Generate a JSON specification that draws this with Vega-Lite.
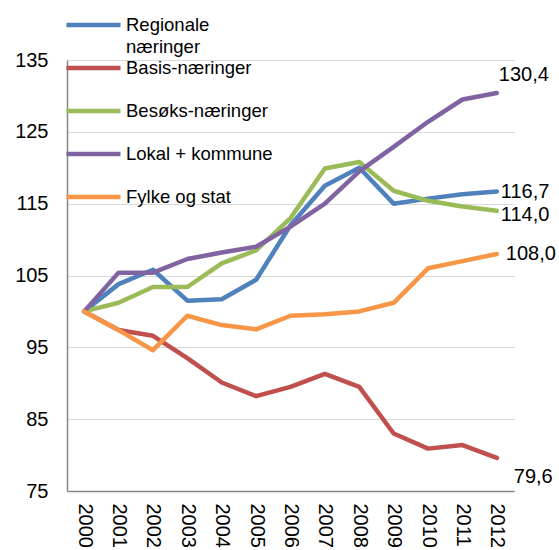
{
  "$schema": "https://vega.github.io/schema/vega-lite/v6.json",
  "width": 447,
  "height": 431,
  "autosize": {"type": "none"},
  "padding": {"left": 67, "top": 60, "right": 45, "bottom": 59},
  "config": {
    "view": {"stroke": null},
    "font": "Liberation Sans",
    "text": {"font": "Liberation Sans"}
  },
  "data": {
    "values": [
      {"year": "2000", "series": "Regionale næringer", "value": 100},
      {"year": "2001", "series": "Regionale næringer", "value": 103.8},
      {"year": "2002", "series": "Regionale næringer", "value": 105.8},
      {"year": "2003", "series": "Regionale næringer", "value": 101.5},
      {"year": "2004", "series": "Regionale næringer", "value": 101.7},
      {"year": "2005", "series": "Regionale næringer", "value": 104.4},
      {"year": "2006", "series": "Regionale næringer", "value": 112.0},
      {"year": "2007", "series": "Regionale næringer", "value": 117.5},
      {"year": "2008", "series": "Regionale næringer", "value": 120.0},
      {"year": "2009", "series": "Regionale næringer", "value": 115.0},
      {"year": "2010", "series": "Regionale næringer", "value": 115.7},
      {"year": "2011", "series": "Regionale næringer", "value": 116.3},
      {"year": "2012", "series": "Regionale næringer", "value": 116.7},
      {"year": "2000", "series": "Basis-næringer", "value": 100},
      {"year": "2001", "series": "Basis-næringer", "value": 97.4},
      {"year": "2002", "series": "Basis-næringer", "value": 96.6},
      {"year": "2003", "series": "Basis-næringer", "value": 93.5},
      {"year": "2004", "series": "Basis-næringer", "value": 90.1},
      {"year": "2005", "series": "Basis-næringer", "value": 88.2},
      {"year": "2006", "series": "Basis-næringer", "value": 89.5},
      {"year": "2007", "series": "Basis-næringer", "value": 91.3},
      {"year": "2008", "series": "Basis-næringer", "value": 89.5},
      {"year": "2009", "series": "Basis-næringer", "value": 83.0},
      {"year": "2010", "series": "Basis-næringer", "value": 80.9},
      {"year": "2011", "series": "Basis-næringer", "value": 81.4},
      {"year": "2012", "series": "Basis-næringer", "value": 79.6},
      {"year": "2000", "series": "Besøks-næringer", "value": 100},
      {"year": "2001", "series": "Besøks-næringer", "value": 101.2},
      {"year": "2002", "series": "Besøks-næringer", "value": 103.4},
      {"year": "2003", "series": "Besøks-næringer", "value": 103.4},
      {"year": "2004", "series": "Besøks-næringer", "value": 106.7},
      {"year": "2005", "series": "Besøks-næringer", "value": 108.5},
      {"year": "2006", "series": "Besøks-næringer", "value": 113.0},
      {"year": "2007", "series": "Besøks-næringer", "value": 119.9},
      {"year": "2008", "series": "Besøks-næringer", "value": 120.8},
      {"year": "2009", "series": "Besøks-næringer", "value": 116.8},
      {"year": "2010", "series": "Besøks-næringer", "value": 115.4},
      {"year": "2011", "series": "Besøks-næringer", "value": 114.6},
      {"year": "2012", "series": "Besøks-næringer", "value": 114.0},
      {"year": "2000", "series": "Lokal + kommune", "value": 100},
      {"year": "2001", "series": "Lokal + kommune", "value": 105.4},
      {"year": "2002", "series": "Lokal + kommune", "value": 105.4},
      {"year": "2003", "series": "Lokal + kommune", "value": 107.3},
      {"year": "2004", "series": "Lokal + kommune", "value": 108.2},
      {"year": "2005", "series": "Lokal + kommune", "value": 109.0},
      {"year": "2006", "series": "Lokal + kommune", "value": 111.8},
      {"year": "2007", "series": "Lokal + kommune", "value": 115.0},
      {"year": "2008", "series": "Lokal + kommune", "value": 119.5},
      {"year": "2009", "series": "Lokal + kommune", "value": 122.9},
      {"year": "2010", "series": "Lokal + kommune", "value": 126.4},
      {"year": "2011", "series": "Lokal + kommune", "value": 129.5},
      {"year": "2012", "series": "Lokal + kommune", "value": 130.4},
      {"year": "2000", "series": "Fylke og stat", "value": 100},
      {"year": "2001", "series": "Fylke og stat", "value": 97.4},
      {"year": "2002", "series": "Fylke og stat", "value": 94.6},
      {"year": "2003", "series": "Fylke og stat", "value": 99.4},
      {"year": "2004", "series": "Fylke og stat", "value": 98.1},
      {"year": "2005", "series": "Fylke og stat", "value": 97.5},
      {"year": "2006", "series": "Fylke og stat", "value": 99.4},
      {"year": "2007", "series": "Fylke og stat", "value": 99.6},
      {"year": "2008", "series": "Fylke og stat", "value": 100.0},
      {"year": "2009", "series": "Fylke og stat", "value": 101.2},
      {"year": "2010", "series": "Fylke og stat", "value": 106.0},
      {"year": "2011", "series": "Fylke og stat", "value": 107.0},
      {"year": "2012", "series": "Fylke og stat", "value": 108.0}
    ]
  },
  "encoding": {
    "x": {
      "field": "year", "type": "ordinal",
      "scale": {"type": "point", "padding": 0.5},
      "axis": {
        "title": null, "labelAngle": 90, "labelAlign": "left", "labelBaseline": "middle",
        "labelFontSize": 20, "labelColor": "#000", "labelPadding": 12,
        "ticks": false, "domainColor": "#868686", "domainWidth": 1.5, "grid": false
      }
    },
    "y": {
      "field": "value", "type": "quantitative",
      "scale": {"domain": [75, 135], "nice": false, "zero": false},
      "axis": {
        "title": null, "values": [75, 85, 95, 105, 115, 125, 135],
        "labelFontSize": 20, "labelColor": "#000", "labelPadding": 19,
        "ticks": false, "domainColor": "#868686", "domainWidth": 1.5,
        "grid": true, "gridColor": "#d9d9d9", "gridWidth": 1.2
      }
    }
  },
  "layer": [
    {
      "mark": {"type": "line", "strokeWidth": 4.5, "strokeJoin": "round", "strokeCap": "round"},
      "encoding": {
        "color": {
          "field": "series", "type": "nominal",
          "scale": {
            "domain": ["Regionale næringer", "Basis-næringer", "Besøks-næringer", "Lokal + kommune", "Fylke og stat"],
            "range": ["#4F81BD", "#C0504D", "#9BBB59", "#8064A2", "#F79646"]
          },
          "legend": {
            "orient": "none", "legendX": -3, "legendY": -43, "title": null,
            "symbolType": "stroke", "symbolSize": 2916, "symbolStrokeWidth": 4.5,
            "labelFontSize": 18.5, "labelColor": "#000", "labelOffset": 3, "labelLimit": 300,
            "labelBaseline": "alphabetic", "rowPadding": 2, "padding": 0,
            "labelExpr": "datum.label == 'Regionale næringer' ? ['Regionale', 'næringer'] : [datum.label, '']",
            "encode": {
              "symbols": {"update": {"y": {"value": 8}}},
              "labels": {"update": {"y": {"value": 8}, "dy": {"value": 6}, "lineHeight": {"value": 22}}}
            }
          }
        }
      }
    },
    {
      "transform": [
        {"filter": "datum.year == '2012' && datum.series == 'Lokal + kommune'"},
        {"calculate": "replace(format(datum.value, '.1f'), '.', ',')", "as": "label"}
      ],
      "mark": {"type": "text", "align": "left", "baseline": "middle", "dx": 2, "dy": -18, "fontSize": 20, "color": "#000"},
      "encoding": {"text": {"field": "label", "type": "nominal"}}
    },
    {
      "transform": [
        {"filter": "datum.year == '2012' && datum.series == 'Regionale næringer'"},
        {"calculate": "replace(format(datum.value, '.1f'), '.', ',')", "as": "label"}
      ],
      "mark": {"type": "text", "align": "left", "baseline": "middle", "dx": 4, "dy": 1, "fontSize": 20, "color": "#000"},
      "encoding": {"text": {"field": "label", "type": "nominal"}}
    },
    {
      "transform": [
        {"filter": "datum.year == '2012' && datum.series == 'Besøks-næringer'"},
        {"calculate": "replace(format(datum.value, '.1f'), '.', ',')", "as": "label"}
      ],
      "mark": {"type": "text", "align": "left", "baseline": "middle", "dx": 4, "dy": 4, "fontSize": 20, "color": "#000"},
      "encoding": {"text": {"field": "label", "type": "nominal"}}
    },
    {
      "transform": [
        {"filter": "datum.year == '2012' && datum.series == 'Fylke og stat'"},
        {"calculate": "replace(format(datum.value, '.1f'), '.', ',')", "as": "label"}
      ],
      "mark": {"type": "text", "align": "left", "baseline": "middle", "dx": 9, "dy": 0, "fontSize": 20, "color": "#000"},
      "encoding": {"text": {"field": "label", "type": "nominal"}}
    },
    {
      "transform": [
        {"filter": "datum.year == '2012' && datum.series == 'Basis-næringer'"},
        {"calculate": "replace(format(datum.value, '.1f'), '.', ',')", "as": "label"}
      ],
      "mark": {"type": "text", "align": "left", "baseline": "middle", "dx": 17, "dy": 19, "fontSize": 20, "color": "#000"},
      "encoding": {"text": {"field": "label", "type": "nominal"}}
    }
  ]
}
